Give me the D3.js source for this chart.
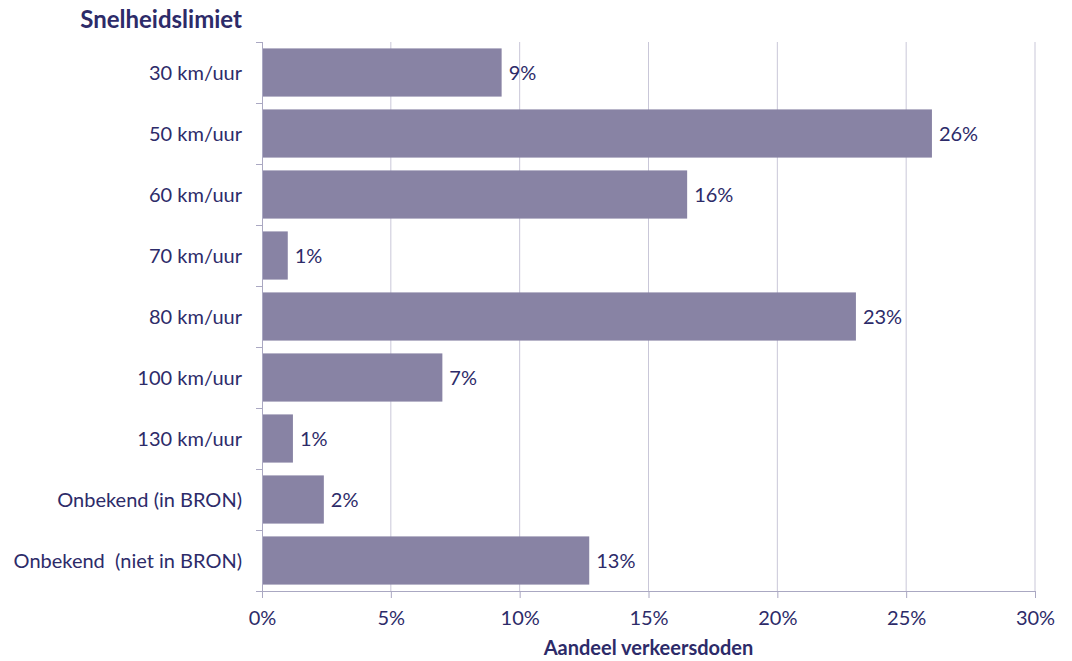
<!DOCTYPE html>
<html>
<head>
<meta charset="utf-8">
<script src="https://cdn.jsdelivr.net/npm/d3@7"></script>
<style>
  body { margin: 0; background: #fff; }
  text { font-family: Lato, "Open Sans", sans-serif; fill: #2d2b69; }
</style>
</head>
<body>
<div id="grafiek"></div>
<script>
// gegevens
var categorieen = ["30 km/uur", "50 km/uur", "60 km/uur", "70 km/uur", "80 km/uur",
  "100 km/uur", "130 km/uur", "Onbekend (in BRON)", "Onbekend  (niet in BRON)"];
var aandeel = [9.3, 26.0, 16.5, 1.0, 23.05, 7.0, 1.2, 2.4, 12.7];
var labels = ["9%", "26%", "16%", "1%", "23%", "7%", "1%", "2%", "13%"];
var xTicks = [0, 5, 10, 15, 20, 25, 30];

var margin = {top: 42, right: 37, bottom: 70, left: 262},
  width = 1072 - margin.left - margin.right,
  height = 661 - margin.top - margin.bottom;

var svg = d3.select("#grafiek").append("svg")
  .attr("width", 1072)
  .attr("height", 661)
  .append("g")
  .attr("transform", "translate(" + margin.left + "," + margin.top + ")");

var x = d3.scaleLinear().domain([0, 30]).range([0, width]);
var y = d3.scaleBand().domain(categorieen).range([0, height]).paddingInner(0.21).paddingOuter(0.105);

// rasterlijnen
svg.append("g")
  .selectAll("line")
  .data(xTicks.slice(1))
  .enter().append("line")
  .attr("x1", function(d) { return x(d); })
  .attr("x2", function(d) { return x(d); })
  .attr("y1", 0)
  .attr("y2", height)
  .attr("stroke", "#c9c7d8")
  .attr("stroke-width", 1);

// balken
svg.append("g")
  .selectAll("rect")
  .data(aandeel)
  .enter().append("rect")
  .attr("x", x(0))
  .attr("y", function(d, i) { return y(categorieen[i]); })
  .attr("width", function(d) { return x(d) - x(0); })
  .attr("height", y.bandwidth())
  .attr("fill", "#8883a4");

// waardelabels
svg.append("g")
  .selectAll("text")
  .data(aandeel)
  .enter().append("text")
  .attr("x", function(d) { return x(d) + 7; })
  .attr("y", function(d, i) { return y(categorieen[i]) + y.bandwidth() / 2; })
  .attr("dy", "0.35em")
  .attr("font-size", "20px")
  .text(function(d, i) { return labels[i]; });

// x-as
var xAs = svg.append("g")
  .attr("transform", "translate(0," + height + ")")
  .call(d3.axisBottom(x).tickValues(xTicks).tickSize(7).tickPadding(13)
    .tickFormat(function(d) { return d + "%"; }));
xAs.select(".domain").attr("stroke", "#aaa8c2");
xAs.selectAll(".tick line").attr("stroke", "#aaa8c2");
xAs.selectAll("text").attr("font-size", "20px").attr("fill", "#2d2b69");

// y-as met scheidingsstreepjes
svg.append("line")
  .attr("x1", 0.5).attr("x2", 0.5)
  .attr("y1", 0).attr("y2", height + 7)
  .attr("stroke", "#aaa8c2");
var grenzen = categorieen.map(function(c) { return y(c) - y.step() * y.paddingInner() / 2; });
grenzen.push(height);
svg.append("g")
  .selectAll("line")
  .data(grenzen)
  .enter().append("line")
  .attr("x1", -6).attr("x2", 0)
  .attr("y1", function(d) { return Math.round(d) + 0.5; })
  .attr("y2", function(d) { return Math.round(d) + 0.5; })
  .attr("stroke", "#aaa8c2");

svg.append("g")
  .selectAll("text")
  .data(categorieen)
  .enter().append("text")
  .attr("x", -20)
  .attr("y", function(d) { return y(d) + y.bandwidth() / 2; })
  .attr("dy", "0.35em")
  .attr("text-anchor", "end")
  .attr("font-size", "20px")
  .style("white-space", "pre")
  .text(function(d) { return d; });

// titels
svg.append("text")
  .attr("x", -20)
  .attr("y", -14)
  .attr("text-anchor", "end")
  .attr("font-size", "24px")
  .attr("font-weight", "bold")
  .text("Snelheidslimiet");

svg.append("text")
  .attr("x", width / 2)
  .attr("y", height + 64)
  .attr("text-anchor", "middle")
  .attr("font-size", "20px")
  .attr("font-weight", "bold")
  .text("Aandeel verkeersdoden");
</script>
</body>
</html>
